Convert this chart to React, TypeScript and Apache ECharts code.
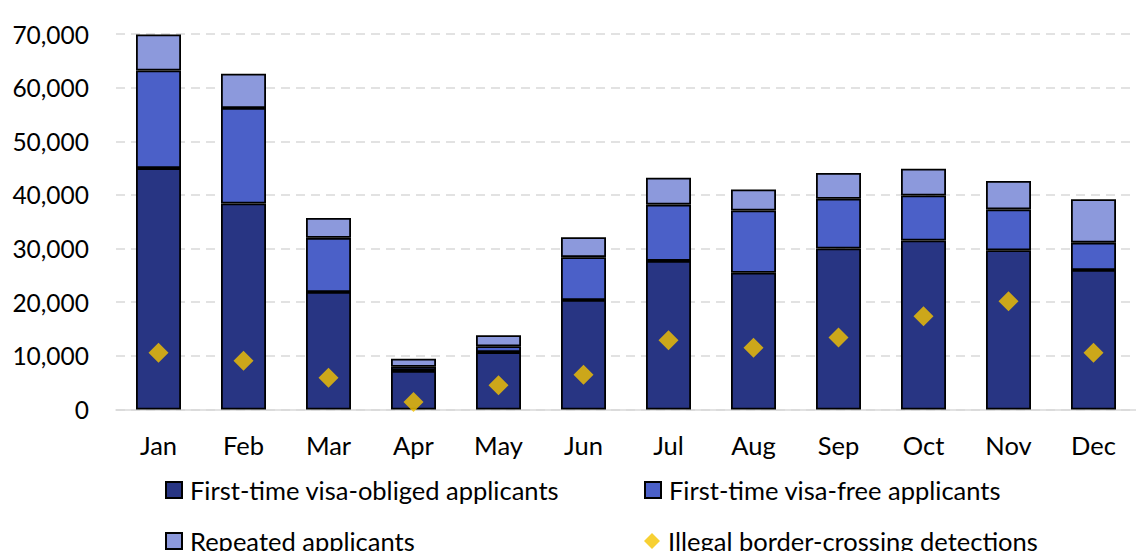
import React, { useEffect, useRef } from "react";
import * as echarts from "echarts";

const months = ["Jan", "Feb", "Mar", "Apr", "May", "Jun", "Jul", "Aug", "Sep", "Oct", "Nov", "Dec"];
const visaObliged = [45000, 38400, 21900, 7200, 10700, 20400, 27700, 25500, 30000, 31500, 29700, 26000];
const visaFree = [18200, 17800, 10100, 750, 1100, 8000, 10500, 11600, 9300, 8400, 7600, 5100];
const repeated = [6700, 6400, 3700, 1500, 2050, 3700, 5000, 3900, 4800, 5000, 5300, 8100];
const illegal = [10600, 9100, 5900, 1400, 4500, 6500, 12900, 11500, 13400, 17400, 20200, 10600];

const seriesNames = [
  "First-time visa-obliged applicants",
  "First-time visa-free applicants",
  "Repeated applicants",
  "Illegal border-crossing detections",
];

const FONT = "Lato";

export default function App() {
  const ref = useRef<HTMLDivElement>(null);
  useEffect(() => {
    if (!ref.current) return;
    const chart = echarts.init(ref.current, undefined, { renderer: "svg" });
    const barBase = { borderColor: "#000", borderWidth: 1.8 };
    const legendText = { fontFamily: FONT, fontSize: 25.5, color: "#000", lineHeight: 26, padding: [0, 0, 0, 3] };
    const legendPos = [
      { left: 160, top: 472 },
      { left: 639, top: 472 },
      { left: 160, top: 523 },
      { left: 639, top: 523 },
    ];
    const legends = seriesNames.map((name, i) => ({
      ...legendPos[i],
      itemWidth: 16,
      itemHeight: 16,
      selectedMode: false,
      textStyle: legendText,
      data: [{ name, icon: i === 3 ? "diamond" : "rect" }],
    }));
    chart.setOption({
      animation: false,
      backgroundColor: "#fff",
      grid: { left: 116, top: 34, width: 1036, height: 375.5, containLabel: false },
      legend: legends,
      xAxis: {
        type: "category",
        data: months,
        axisLine: { lineStyle: { color: "#d9d9d9", width: 1.5 } },
        axisTick: { show: false },
        axisLabel: { fontFamily: FONT, fontSize: 25.5, color: "#000", margin: 22 },
      },
      yAxis: {
        type: "value",
        min: 0,
        max: 70000,
        interval: 10000,
        axisLine: { show: false },
        axisTick: { show: false },
        splitLine: { lineStyle: { color: "#d9d9d9", type: [9, 6], width: 1.5 } },
        axisLabel: {
          fontFamily: FONT,
          fontSize: 24.5,
          color: "#000",
          margin: 27,
          formatter: (v: number) => v.toLocaleString("en-US"),
        },
      },
      series: [
        {
          name: seriesNames[0],
          type: "bar",
          stack: "a",
          barWidth: 45,
          data: visaObliged,
          itemStyle: { ...barBase, color: "#283583" },
        },
        {
          name: seriesNames[1],
          type: "bar",
          stack: "a",
          barWidth: 45,
          data: visaFree,
          itemStyle: { ...barBase, color: "#4B60C8" },
        },
        {
          name: seriesNames[2],
          type: "bar",
          stack: "a",
          barWidth: 45,
          data: repeated,
          itemStyle: { ...barBase, color: "#8C99DC" },
        },
        {
          name: seriesNames[3],
          type: "scatter",
          symbol: "diamond",
          symbolSize: 20,
          z: 5,
          data: illegal,
          itemStyle: { color: "#F5C400" },
        },
      ],
    });
    return () => chart.dispose();
  }, []);
  return (
    <div
      ref={ref}
      style={{ position: "fixed", left: 0, top: 0, width: 1136, height: 551, background: "#fff" }}
    />
  );
}
